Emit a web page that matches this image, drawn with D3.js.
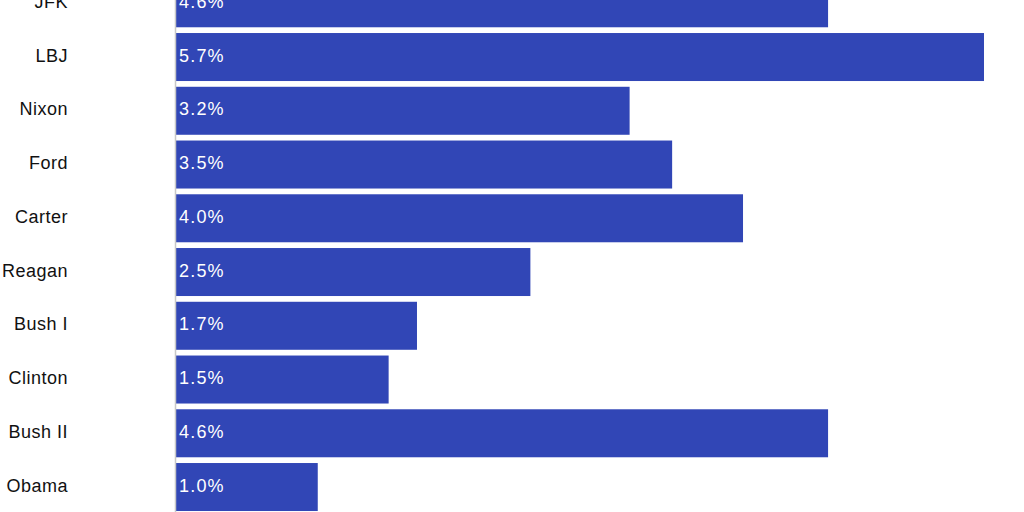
<!DOCTYPE html>
<html>
<head>
<meta charset="utf-8">
<script src="https://cdn.jsdelivr.net/npm/d3@7"></script>
<style>
  html, body { margin: 0; padding: 0; background: #fff; overflow: hidden; }
  text { font-family: "Liberation Sans", Arial, sans-serif; }
</style>
</head>
<body>
<svg id="chart"></svg>
<script>
const width = 1024,
  height = 512;

const presidents = ["JFK", "LBJ", "Nixon", "Ford", "Carter", "Reagan", "Bush I", "Clinton", "Bush II", "Obama"];
const growth = [4.6, 5.7, 3.2, 3.5, 4.0, 2.5, 1.7, 1.5, 4.6, 1.0];

const svg = d3.select("#chart").attr("width", width).attr("height", height);

const x = d3.scaleLinear().domain([0, 5.7]).range([176, 984]);

// the top row is partly cut off in the reference
const y = d3
  .scaleBand()
  .domain(presidents)
  .range([-23.6, 513.9])
  .paddingInner(0.107)
  .paddingOuter(0.0535);

const rows = presidents.map((p, i) => ({ name: p, value: growth[i] }));

// bars
svg
  .selectAll("rect.bar")
  .data(rows)
  .join("rect")
  .attr("class", "bar")
  .attr("x", x(0))
  .attr("y", (d) => y(d.name))
  .attr("width", (d) => x(d.value) - x(0))
  .attr("height", y.bandwidth())
  .attr("fill", "#3146b6");

// baseline
svg
  .append("line")
  .attr("x1", x(0) - 0.5)
  .attr("x2", x(0) - 0.5)
  .attr("y1", 0)
  .attr("y2", height)
  .attr("stroke", "#c8c8c8")
  .attr("stroke-width", 1.5);

// category labels
svg
  .selectAll("text.name")
  .data(rows)
  .join("text")
  .attr("class", "name")
  .attr("x", 68)
  .attr("y", (d) => y(d.name) + y.bandwidth() / 2)
  .attr("dy", "0.26em")
  .attr("text-anchor", "end")
  .attr("font-size", 18)
  .attr("letter-spacing", 0.5)
  .attr("fill", "#111")
  .text((d) => d.name);

// value labels inside bars
svg
  .selectAll("text.val")
  .data(rows)
  .join("text")
  .attr("class", "val")
  .attr("x", x(0) + 3)
  .attr("y", (d) => y(d.name) + y.bandwidth() / 2)
  .attr("dy", "0.26em")
  .attr("font-size", 18)
  .attr("letter-spacing", 1.2)
  .attr("fill", "#fff")
  .text((d) => d3.format(".1f")(d.value) + "%");
</script>
</body>
</html>
